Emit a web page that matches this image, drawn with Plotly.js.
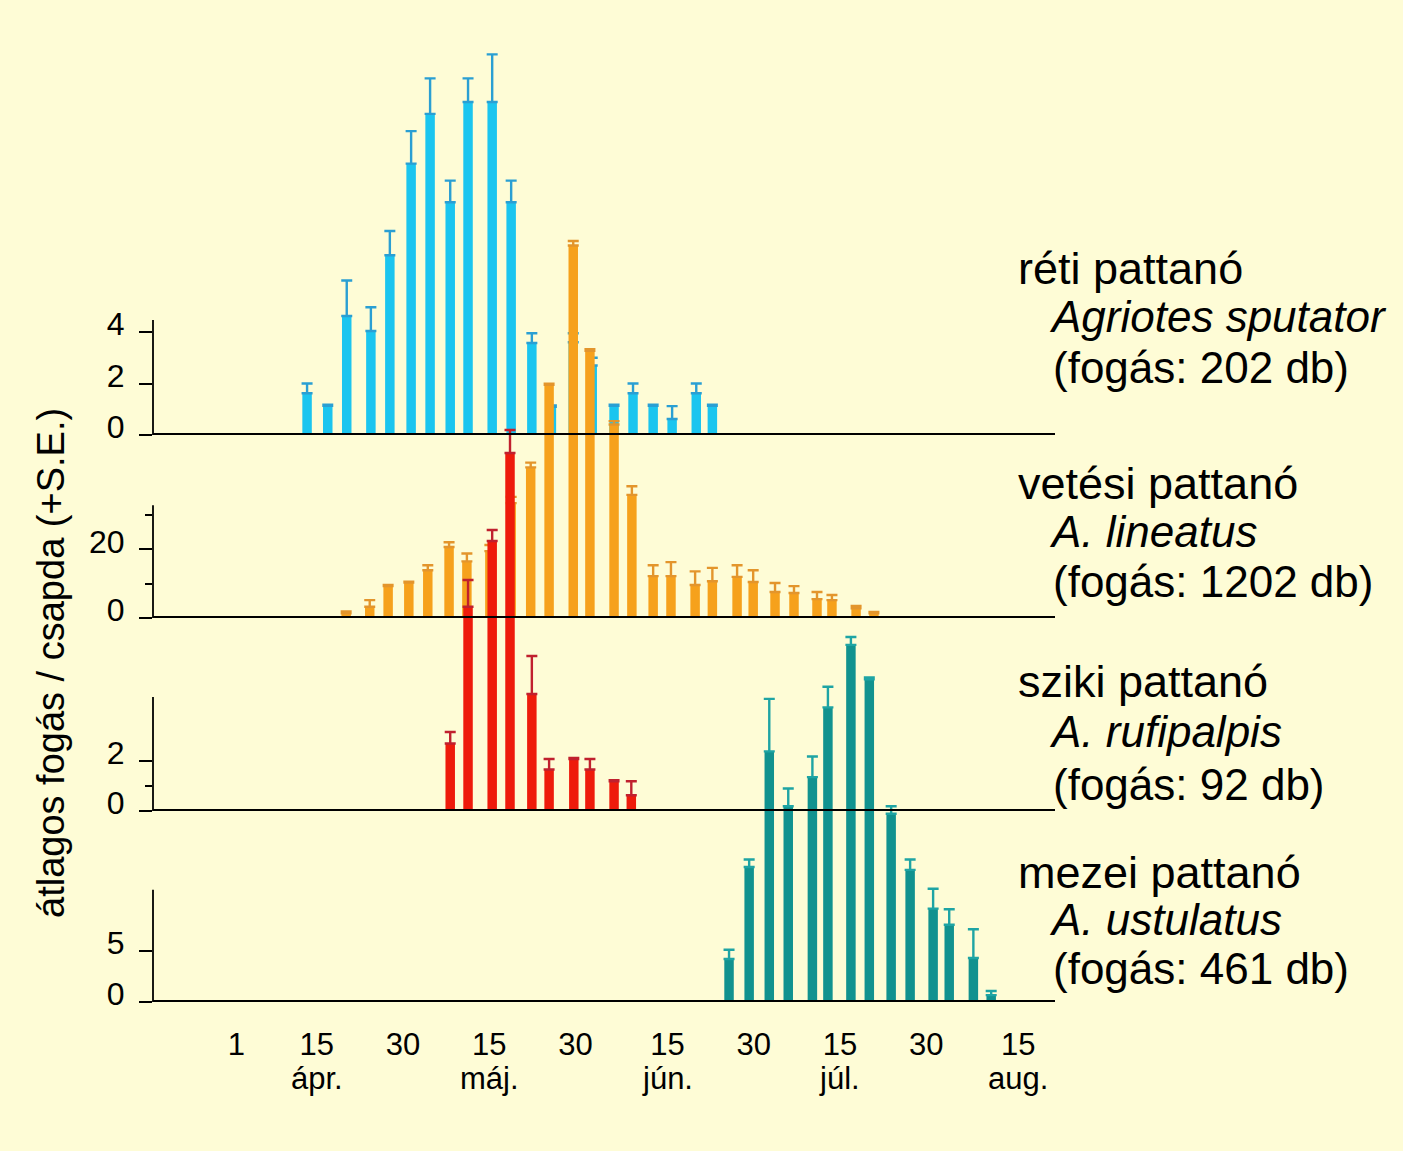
<!DOCTYPE html>
<html>
<head>
<meta charset="utf-8">
<script src="https://cdn.plot.ly/plotly-3.0.1.min.js"></script>
<style>
  html, body { margin: 0; padding: 0; background: #fefcd6; }
  #chart { width: 1403px; height: 1151px; }
</style>
</head>
<body>
<div id="chart"></div>
<script>
// sampling days counted from 1 April (1 = ápr. 1, 45 = máj. 15 ...)
const retiDays = [13.3, 16.9, 20.2, 24.4, 27.7, 31.4, 34.7, 38.2, 41.3, 45.5, 48.8, 52.4, 55.8, 59.6, 62.9, 66.7, 70.0, 73.5, 76.8, 81.0, 83.8];
const retiMean = [1.62, 1.13, 4.62, 4.04, 6.98, 10.54, 12.47, 9.04, 12.93, 12.93, 9.04, 3.57, 1.1, 3.6, 2.7, 1.13, 1.62, 1.13, 0.62, 1.62, 1.13];
const retiSE = [0.38, 0.05, 1.38, 0.92, 0.94, 1.26, 1.38, 0.84, 0.92, 1.85, 0.84, 0.38, 0.05, 0.35, 0.3, 0.05, 0.38, 0.05, 0.5, 0.38, 0.05];

const vetesiDays = [20.1, 24.2, 27.4, 31.0, 34.3, 38.0, 41.1, 45.1, 48.8, 52.2, 55.4, 59.6, 62.5, 66.7, 69.8, 73.5, 76.6, 80.8, 83.8, 88.1, 90.9, 94.7, 98.0, 102.0, 104.6, 108.8, 111.9];
const vetesiMean = [1.4, 3.3, 9.3, 10.3, 13.9, 20.7, 16.5, 19.5, 33.5, 43.9, 68.0, 108.6, 77.9, 56.4, 35.9, 12.2, 12.2, 9.6, 10.7, 12.0, 10.5, 7.6, 7.3, 5.5, 5.2, 2.8, 1.4];
const vetesiSE = [0.5, 1.9, 0.3, 0.3, 1.5, 1.4, 2.3, 1.8, 1.8, 1.4, 0.3, 1.3, 0.5, 1.0, 2.5, 3.2, 4.1, 4.0, 3.9, 3.4, 3.4, 2.6, 2.0, 2.1, 1.5, 0.7, 0.4];

const szikiDays = [38.2, 41.3, 45.5, 48.6, 52.4, 55.4, 59.7, 62.5, 66.7, 69.7];
const szikiMean = [2.7, 8.17, 10.8, 14.32, 4.68, 1.66, 2.08, 1.66, 1.19, 0.63];
const szikiSE = [0.46, 1.07, 0.44, 0.92, 1.52, 0.42, 0.04, 0.42, 0.04, 0.56];

const mezeiDays = [86.7, 90.2, 93.7, 97.0, 101.2, 103.9, 107.9, 111.1, 114.9, 118.2, 122.2, 125.0, 129.2, 132.3];
const mezeiMean = [4.17, 13.1, 24.33, 19.0, 21.83, 28.6, 34.67, 31.33, 18.27, 12.83, 9.07, 7.5, 4.27, 0.67];
const mezeiSE = [0.9, 0.73, 5.1, 1.73, 2.0, 2.0, 0.76, 0.17, 0.73, 1.0, 1.93, 1.5, 2.8, 0.4];

const tickDays = [1, 15, 30, 45, 60, 76, 91, 106, 121, 137];
const tickLabels = ["1", "15", "30", "15", "30", "15", "30", "15", "30", "15"];
const monthDays = [15, 45, 76, 106, 137];
const monthLabels = ["ápr.", "máj.", "jún.", "júl.", "aug."];

const commonNames = ["réti pattanó", "vetési pattanó", "sziki pattanó", "mezei pattanó"];
const latinNames = ["Agriotes sputator", "A. lineatus", "A. rufipalpis", "A. ustulatus"];
const catchTotals = [202, 1202, 92, 461];
const yTitle = "átlagos fogás / csapda (+S.E.)";

// layout in screen pixels
const W = 1403, H = 1151;
const box = { left: 153, right: 1055, top: 40, bottom: 1002 };
const xRange = [-13.5, 143.4];
const font = "Liberation Sans, Arial, Helvetica, sans-serif";

const panels = [
  { days: retiDays, mean: retiMean, se: retiSE, color: "#1bc5ef", errColor: "#2a9fd3", base: 435, ppu: 25.75, spine: 4.47, ticks: [0, 2, 4], minor: [] },
  { days: vetesiDays, mean: vetesiMean, se: vetesiSE, color: "#f6a11c", errColor: "#e3952c", base: 618, ppu: 3.43, spine: 32.9, ticks: [0, 20], minor: [10, 30] },
  { days: szikiDays, mean: szikiMean, se: szikiSE, color: "#ee1b0b", errColor: "#c0202e", base: 811, ppu: 25, spine: 4.56, ticks: [0, 2], minor: [1] },
  { days: mezeiDays, mean: mezeiMean, se: mezeiSE, color: "#11928f", errColor: "#1ea4a4", base: 1002, ppu: 10.3, spine: 10.9, ticks: [0, 5], minor: [] },
];

const span = box.bottom - box.top;
const px2x = (px) => (px - box.left) / (box.right - box.left);
const px2y = (py) => (box.bottom - py) / span;

const traces = [];
const shapes = [];
const layout = {
  width: W,
  height: H,
  margin: { l: box.left, r: W - box.right, t: box.top, b: H - box.bottom },
  paper_bgcolor: "#fefcd6",
  plot_bgcolor: "rgba(0,0,0,0)",
  barmode: "overlay",
  showlegend: false,
  font: { family: font, color: "#000" },
  xaxis: {
    range: xRange, anchor: "y4", tickmode: "array", tickvals: tickDays, ticktext: tickLabels,
    ticks: "", showline: false, showgrid: false, zeroline: false,
    tickfont: { size: 31, color: "#000" }, ticklabelstandoff: 21, fixedrange: true,
  },
};

panels.forEach((p, i) => {
  const n = i === 0 ? "" : String(i + 1);
  const yref = "y" + n;
  traces.push({
    type: "bar",
    x: p.days,
    y: p.mean,
    xaxis: "x",
    yaxis: yref,
    width: 1.65,
    marker: { color: p.color, line: { width: 0 } },
    error_y: {
      type: "data", symmetric: false, array: p.se, arrayminus: p.se.map(() => 0),
      color: p.errColor, thickness: 2.4, width: 5.5,
    },
    hoverinfo: "skip",
  });
  const ax = {
    domain: [px2y(p.base), 1],
    range: [0, (p.base - box.top) / p.ppu],
    anchor: "x",
    tickmode: "array",
    tickvals: p.ticks,
    ticks: "outside",
    ticklen: 13,
    tickwidth: 2,
    tickcolor: "#000",
    showgrid: false,
    zeroline: false,
    showline: false,
    tickfont: { size: 32, color: "#000" },
    ticklabelstandoff: 8,
    ticklabelshift: -8,
    fixedrange: true,
  };
  if (p.minor.length) {
    ax.minor = { tickmode: "array", tickvals: p.minor, ticks: "outside", ticklen: 7, tickwidth: 2, tickcolor: "#000", showgrid: false };
  }
  layout["yaxis" + n] = ax;
  // baseline and short axis spine
  shapes.push({ type: "line", xref: "paper", yref, x0: 0, x1: 1, y0: 0, y1: 0, line: { color: "#000", width: 4 }, layer: "above" });
  shapes.push({ type: "line", xref: "paper", yref, x0: 0, x1: 0, y0: 0, y1: p.spine, line: { color: "#000", width: 1.8 }, layer: "above" });
});

const labelRows = [
  [268, 316, 367],
  [483, 531, 581],
  [681, 732, 784],
  [872, 919, 968],
];
const annotations = [];
commonNames.forEach((name, i) => {
  const rows = labelRows[i];
  annotations.push({ xref: "paper", yref: "paper", x: px2x(1016), y: px2y(rows[0]), xanchor: "left", yanchor: "middle", showarrow: false, text: name, font: { size: 45, color: "#000" } });
  annotations.push({ xref: "paper", yref: "paper", x: px2x(1047), y: px2y(rows[1]), xanchor: "left", yanchor: "middle", showarrow: false, text: "<i>" + latinNames[i] + "</i>", font: { size: 44, color: "#000" } });
  annotations.push({ xref: "paper", yref: "paper", x: px2x(1051), y: px2y(rows[2]), xanchor: "left", yanchor: "middle", showarrow: false, text: "(fogás: " + catchTotals[i] + " db)", font: { size: 44, color: "#000" } });
});
// month names under the mid-month ticks
monthDays.forEach((d, i) => {
  annotations.push({ xref: "x", yref: "paper", x: d, y: px2y(1078), xanchor: "center", yanchor: "middle", showarrow: false, text: monthLabels[i], font: { size: 31, color: "#000" } });
});
annotations.push({ xref: "paper", yref: "paper", x: px2x(51), y: px2y(663), xanchor: "center", yanchor: "middle", showarrow: false, textangle: -90, text: yTitle, font: { size: 38, color: "#000" } });

layout.shapes = shapes;
layout.annotations = annotations;

Plotly.newPlot("chart", traces, layout, { displayModeBar: false, staticPlot: true });
</script>
</body>
</html>
